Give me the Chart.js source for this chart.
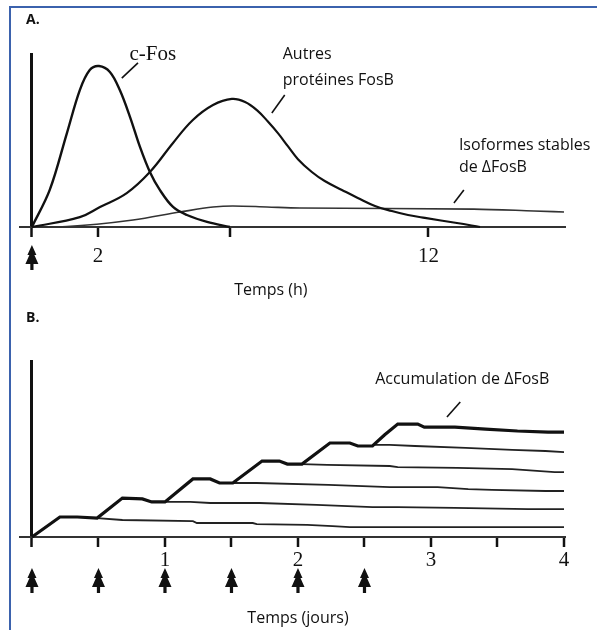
<!DOCTYPE html>
<html><head><meta charset="utf-8">
<script src="https://cdn.jsdelivr.net/npm/chart.js@4.4.1/dist/chart.umd.min.js"></script>
<style>
html,body{margin:0;padding:0;background:#fff;}
#wrap{position:relative;width:597px;height:630px;overflow:hidden;background:#fff;}
canvas{position:absolute;left:0;}
#cA{top:0}
#cB{top:300px}
.bt{position:absolute;left:9px;top:6px;width:588px;height:2px;background:#3b62ad;}
.bl{position:absolute;left:9px;top:6px;width:2px;height:624px;background:#3b62ad;}
</style></head>
<body><div id="wrap">
<canvas id="cA" width="597" height="300"></canvas>
<canvas id="cB" width="597" height="330"></canvas>
<div class="bt"></div><div class="bl"></div>
</div>
<script>
// ---------- Panel A : hours after a single dose ----------
const hourTicksA = [0, 2, 6, 12];
const hourLabelsA = ['', '2', '', '12'];
const doseHoursA = [0];
const cFos = [[0,0],[0.54,21.3],[1.06,54],[1.45,78.7],[1.75,90.2],[2.03,92.5],[2.36,89.1],[2.66,78.7],[2.97,63.2],[3.27,46],[3.57,31.6],[3.87,21.3],[4.27,11.5],[4.69,6.9],[5.3,2.9],[5.99,0]];
const autresFosB = [[0,0],[1.45,5.7],[2.06,11.5],[2.87,19.5],[3.57,31.6],[4.27,48.3],[4.87,61.5],[5.48,70.1],[6.05,73.6],[6.45,71.8],[6.84,66.6],[7.14,60.6],[7.45,53.8],[7.75,46.3],[8.05,39],[8.47,31.6],[8.86,26.4],[9.38,21.3],[9.86,16.7],[10.38,12.1],[10.89,9.2],[11.38,6.9],[11.89,5.2],[12.86,2.3],[13.56,0]];
const isoformesDeltaFosB = [[0,0],[1.06,0.3],[3.06,4],[4.48,8.6],[5.48,11.5],[6.08,12.1],[7.11,11.5],[8.11,10.9],[13.37,10.3],[15.19,9.2],[16.1,8.6]];

// ---------- Panel B : days of repeated doses ----------
const dayTicksB = [0, 0.5, 1, 1.5, 2, 2.5, 3, 3.5, 4];
const dayLabelsB = ['', '', '1', '', '2', '', '3', '', '4'];
const doseDaysB = [0, 0.5, 1, 1.5, 2, 2.5];
const accumulation = [[0,0],[0.21,11.3],[0.34,11.3],[0.49,10.7],[0.68,22],[0.83,21.5],[0.9,19.8],[1.0,19.8],[1.21,32.8],[1.34,32.8],[1.41,30.5],[1.51,30.5],[1.73,42.9],[1.86,42.9],[1.92,41.2],[2.03,41.2],[2.24,53.1],[2.39,53.1],[2.45,51.4],[2.56,51.4],[2.65,57.6],[2.75,63.8],[2.9,63.8],[2.95,62.1],[3.18,62.1],[3.41,61],[3.65,59.9],[3.88,59.3],[4.0,59.3]];
const decayDose1 = [[0.49,10.7],[0.68,9.6],[1.21,9.0],[1.24,7.9],[1.66,7.9],[1.69,7.3],[2.07,6.8],[2.26,6.2],[2.39,5.6],[3.23,5.6],[4.0,5.6]];
const decayDose2 = [[1.0,19.8],[1.19,19.8],[1.34,19.2],[1.71,19.2],[2.14,18.1],[2.56,16.9],[2.75,16.9],[3.18,16.4],[3.73,15.8],[4.0,15.8]];
const decayDose3 = [[1.51,30.5],[1.69,30.5],[2.23,29.4],[2.69,28.2],[3.05,28.2],[3.28,27.1],[3.46,26.6],[3.86,26.0],[4.0,26.0]];
const decayDose4 = [[2.03,41.2],[2.22,40.7],[2.69,40.1],[2.75,39.5],[3.2,39.0],[3.61,38.4],[3.93,36.7],[4.0,36.7]];
const decayDose5 = [[2.56,52.0],[2.69,52.0],[2.88,51.4],[3.26,50.3],[3.61,49.2],[3.86,48.6],[4.0,48.0]];

const SANS = '"Open Sans", Lato, sans-serif';
const SERIF = '"Liberation Serif", "DejaVu Serif", serif';
const INK = '#111';

const pts = a => a.map(([x, y]) => ({x, y}));

function fir(ctx, x, y) {
  ctx.beginPath();
  ctx.moveTo(x, y - 12);
  ctx.lineTo(x + 4.5, y - 2);
  ctx.lineTo(x + 2.5, y - 2);
  ctx.lineTo(x + 6.5, y + 7);
  ctx.lineTo(x + 1.6, y + 7);
  ctx.lineTo(x + 1.6, y + 13);
  ctx.lineTo(x - 1.6, y + 13);
  ctx.lineTo(x - 1.6, y + 7);
  ctx.lineTo(x - 6.5, y + 7);
  ctx.lineTo(x - 2.5, y - 2);
  ctx.lineTo(x - 4.5, y - 2);
  ctx.closePath();
  ctx.fill();
}

function overlay(cfg) {
  return {
    id: 'overlay',
    afterDraw(chart) {
      const {ctx, scales: {x, y}} = chart;
      ctx.save();
      ctx.fillStyle = INK;
      ctx.strokeStyle = INK;
      ctx.font = 'bold 14px ' + SANS;
      ctx.textAlign = 'left';
      ctx.textBaseline = 'middle';
      ctx.fillText(cfg.letter[0], cfg.letter[1], cfg.letter[2]);
      cfg.texts.forEach(t => {
        ctx.font = t.font;
        ctx.textAlign = t.align;
        ctx.textBaseline = 'middle';
        ctx.fillText(t.text, x.getPixelForValue(t.x), y.getPixelForValue(t.y));
      });
      ctx.lineWidth = 1.6;
      cfg.leaders.forEach(l => {
        ctx.beginPath();
        ctx.moveTo(x.getPixelForValue(l[0]), y.getPixelForValue(l[1]));
        ctx.lineTo(x.getPixelForValue(l[2]), y.getPixelForValue(l[3]));
        ctx.stroke();
      });
      const base = y.getPixelForValue(0);
      cfg.doses.forEach(d => fir(ctx, x.getPixelForValue(d), base + cfg.doseOffset));
      ctx.restore();
    }
  };
}

function xScale(min, max, tickVals, tickLabels, labelPad, fitHeight) {
  return {
    type: 'linear', min, max,
    afterBuildTicks: s => { s.ticks = tickVals.map(v => ({value: v})); },
    afterFit: s => { s.height = fitHeight; },
    ticks: {
      callback: (v, i) => tickLabels[i],
      autoSkip: false, maxRotation: 0, padding: labelPad,
      color: INK, font: {family: SERIF, size: 21}
    },
    grid: {
      color: c => (c.tick && c.tick.value === 0) ? INK : 'rgba(0,0,0,0)',
      lineWidth: c => (c.tick && c.tick.value === 0) ? 3 : 0,
      drawOnChartArea: true, drawTicks: true,
      tickColor: INK, tickWidth: 2.5, tickLength: 10
    },
    border: {display: true, color: '#333', width: 2}
  };
}

const common = (xs, top, bottomPad) => ({
  responsive: false, animation: false, devicePixelRatio: 1,
  layout: {padding: {left: 20, right: 33, top, bottom: bottomPad}},
  plugins: {legend: {display: false}, tooltip: {enabled: false}},
  scales: {x: xs, y: {display: false, min: 0, max: 100}},
  elements: {point: {radius: 0}}
});

// ---------- Chart A ----------
new Chart(document.getElementById('cA'), {
  type: 'line',
  data: {datasets: [
    {label: 'c-Fos', data: pts(cFos), borderColor: INK, borderWidth: 2.4, tension: 0.35, clip: false},
    {label: 'Autres protéines FosB', data: pts(autresFosB), borderColor: INK, borderWidth: 2.2, tension: 0.4, clip: false},
    {label: 'Isoformes stables de ΔFosB', data: pts(isoformesDeltaFosB), borderColor: '#333', borderWidth: 1.6, cubicInterpolationMode: 'monotone', clip: false}
  ]},
  options: common(xScale(-0.36, 16.1, hourTicksA, hourLabelsA, 7, 40), 53, 33),
  plugins: [overlay({
    letter: ['A.', 26, 20],
    texts: [
      {text: 'c-Fos', x: 3.66, y: 99.4, align: 'center', font: '21px ' + SERIF},
      {text: 'Autres', x: 7.59, y: 98.9, align: 'left', font: '16px ' + SANS},
      {text: 'protéines FosB', x: 7.59, y: 84.5, align: 'left', font: '16px ' + SANS},
      {text: 'Isoformes stables', x: 12.92, y: 47.1, align: 'left', font: '16px ' + SANS},
      {text: 'de ΔFosB', x: 12.92, y: 34.5, align: 'left', font: '16px ' + SANS},
      {text: 'Temps (h)', x: 7.23, y: -36.2, align: 'center', font: '16px ' + SANS}
    ],
    leaders: [[2.72, 85.6, 3.21, 94.3], [7.26, 65.5, 7.65, 75.9], [12.77, 13.8, 13.07, 21.3]],
    doses: doseHoursA, doseOffset: 30
  })]
});

// ---------- Chart B ----------
new Chart(document.getElementById('cB'), {
  type: 'line',
  data: {datasets: [
    {label: 'Accumulation de ΔFosB', data: pts(accumulation), borderColor: INK, borderWidth: 3.2, tension: 0, clip: false},
    {label: 'dose 1', data: pts(decayDose1), borderColor: '#222', borderWidth: 1.8, tension: 0, clip: false},
    {label: 'dose 2', data: pts(decayDose2), borderColor: '#222', borderWidth: 1.8, tension: 0, clip: false},
    {label: 'dose 3', data: pts(decayDose3), borderColor: '#222', borderWidth: 1.8, tension: 0, clip: false},
    {label: 'dose 4', data: pts(decayDose4), borderColor: '#222', borderWidth: 1.8, tension: 0, clip: false},
    {label: 'dose 5', data: pts(decayDose5), borderColor: '#222', borderWidth: 1.8, tension: 0, clip: false}
  ]},
  options: common(xScale(-0.09, 4, dayTicksB, dayLabelsB, 1, 40), 60, 53),
  plugins: [overlay({
    letter: ['B.', 26, 18.5],
    texts: [
      {text: 'Accumulation de ΔFosB', x: 2.58, y: 89.3, align: 'left', font: '16px ' + SANS},
      {text: 'Temps (jours)', x: 2.0, y: -45.8, align: 'center', font: '16px ' + SANS}
    ],
    leaders: [[3.12, 67.8, 3.22, 76.3]],
    doses: doseDaysB, doseOffset: 43
  })]
});
</script>
</body></html>
